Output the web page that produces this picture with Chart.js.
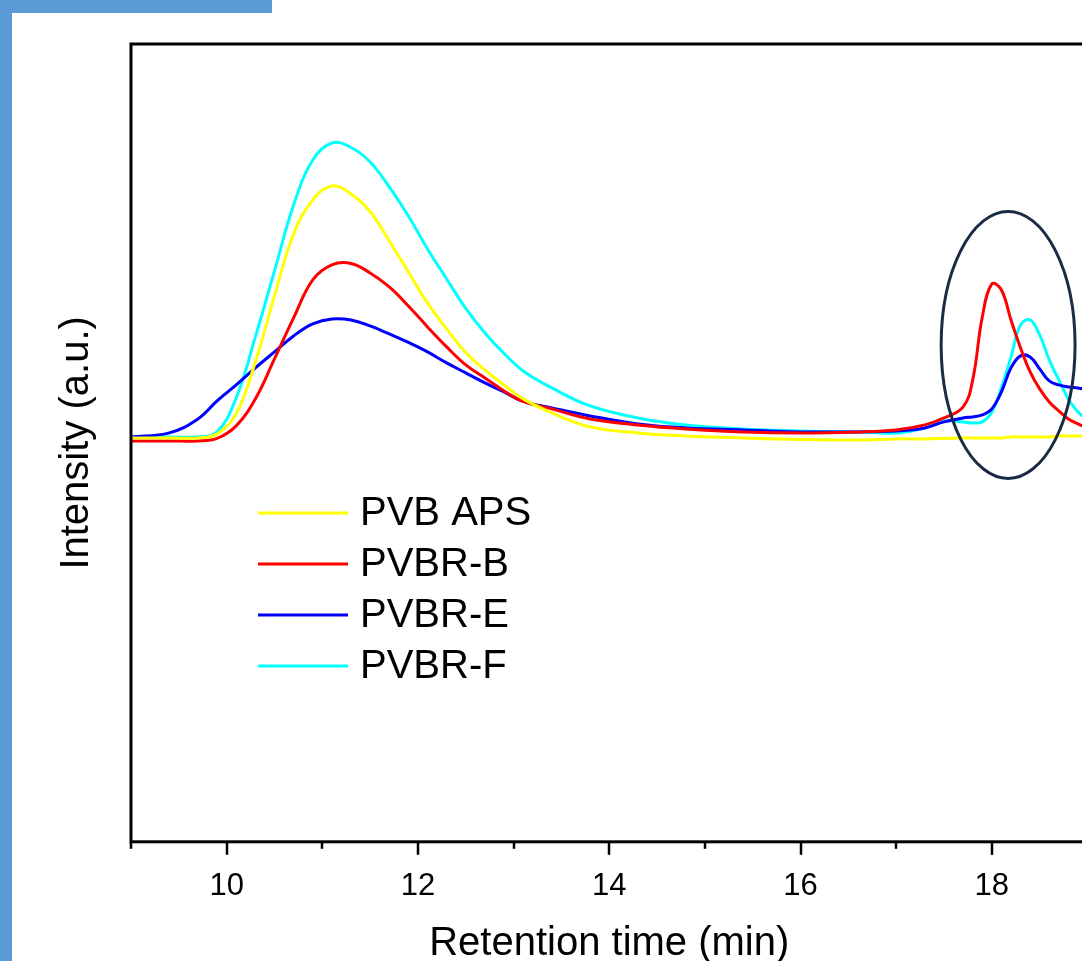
<!DOCTYPE html>
<html>
<head>
<meta charset="utf-8">
<script src="https://cdn.jsdelivr.net/npm/chart.js@4.4.1/dist/chart.umd.min.js"></script>
<style>
  html, body { margin: 0; padding: 0; background: #fff; overflow: hidden; width: 1082px; height: 961px; }
  #wrap { position: absolute; left: 0; top: 0; width: 1100px; height: 968px; }
  .barLeft { position: absolute; left: 0; top: 0; width: 12px; height: 961px; background: #5b9bd5; }
  .barTop { position: absolute; left: 0; top: 0; width: 272px; height: 13px; background: #5b9bd5; }
</style>
</head>
<body>
<div id="wrap"><canvas id="gpcChart" width="1100" height="968"></canvas></div>
<div class="barLeft"></div>
<div class="barTop"></div>
<script>
// retention time (min), shared by every trace
const retentionTime = [9.0, 9.4, 9.7, 9.9, 10.1, 10.3, 10.5, 10.7, 10.9, 11.1, 11.3, 11.5, 11.7, 11.9, 12.1, 12.3, 12.5, 12.7, 12.9, 13.1,
  13.4, 13.8, 14.3, 14.8, 15.4, 16.0, 16.6, 17.0, 17.3, 17.5, 17.7, 17.8, 17.9, 18.0, 18.1, 18.2, 18.3, 18.4, 18.5, 18.6, 18.7, 18.8, 18.9, 19.0];

// intensity (a.u.)
const pvbAps = [404, 404, 404, 408, 428, 480, 546, 608, 642, 656, 648, 630.5, 601, 570, 539, 513, 489.5, 472, 457, 443,
  429, 415, 409, 406, 404, 402.5, 402, 403, 403, 403.5, 404, 404, 404, 404, 404, 405, 405, 405, 405, 405, 406, 406, 406, 406];
const pvbrB = [401, 401, 401, 403.5, 416, 443, 483, 524, 562, 577, 578.5, 569, 555, 536, 515, 495, 477, 464, 451, 440.5,
  433, 423, 417, 413, 410, 409, 410, 412, 417, 424, 435, 462, 525, 558, 552, 522, 494, 470, 453, 440, 431, 423, 418, 414];
const pvbrE = [405, 409, 423, 441, 457, 474, 490, 506, 518, 523, 522, 516, 508, 499.5, 490, 479, 469, 459, 450, 440.5,
  434, 426, 418, 414, 412, 410, 410, 411, 414, 420, 424, 425, 427, 433, 450, 474, 486, 485, 473, 461, 457, 455, 454, 452];
const pvbrF = [405, 405, 405, 410, 444, 505, 571, 637, 682, 699, 694.5, 680, 655, 626, 593, 563, 533.5, 509, 488.5, 471,
  454, 436, 424, 417, 413, 411, 410, 409, 414, 421, 420, 419, 420, 430, 454, 485, 517, 522, 507, 482, 462, 443, 430, 422];

const seriesNames = ['PVB APS', 'PVBR-B', 'PVBR-E', 'PVBR-F'];
const seriesValues = [pvbAps, pvbrB, pvbrE, pvbrF];
const seriesColors = ['#ffff00', '#ff0000', '#0000ff', '#00ffff'];

const FONT = "'Liberation Sans', Arial, sans-serif";

function toPoints(values) {
  return values.map(function (v, i) { return { x: retentionTime[i], y: v }; });
}

// frame, minor/major ticks, y title, inset legend and the ellipse mark
const decorations = {
  id: 'decorations',
  afterDraw: function (chart) {
    const ctx = chart.ctx;
    const a = chart.chartArea;
    const x = chart.scales.x;
    const y = chart.scales.y;
    ctx.save();

    // ellipse round the late peaks
    const cx = x.getPixelForValue(18.17);
    const cy = y.getPixelForValue(497);
    const rx = x.getPixelForValue(18.17 + 0.70) - cx;
    const ry = cy - y.getPixelForValue(497 + 133.5);
    ctx.strokeStyle = '#1c2b45';
    ctx.lineWidth = 3;
    ctx.beginPath();
    ctx.ellipse(cx, cy, rx, ry, 0, 0, Math.PI * 2);
    ctx.stroke();

    // frame
    ctx.strokeStyle = '#000';
    ctx.lineWidth = 3;
    ctx.strokeRect(a.left, a.top, a.right - a.left, a.bottom - a.top);

    // ticks: long on even minutes, short on odd
    ctx.lineWidth = 2.5;
    for (let t = 9; t <= 19; t++) {
      const px = Math.round(x.getPixelForValue(t));
      const len = t % 2 === 0 ? 13 : 7;
      ctx.beginPath();
      ctx.moveTo(px, a.bottom);
      ctx.lineTo(px, a.bottom + len);
      ctx.stroke();
    }

    // y axis title
    ctx.fillStyle = '#000';
    ctx.font = '40px ' + FONT;
    ctx.textAlign = 'center';
    ctx.textBaseline = 'middle';
    ctx.translate(77, (a.top + a.bottom) / 2);
    ctx.rotate(-Math.PI / 2);
    ctx.fillText('Intensity (a.u.)', 0, 0);
    ctx.setTransform(1, 0, 0, 1, 0, 0);

    // legend inside the plot
    ctx.textAlign = 'left';
    chart.data.datasets.forEach(function (ds, i) {
      const ly = 513 + i * 51;
      ctx.strokeStyle = ds.borderColor;
      ctx.lineWidth = 3;
      ctx.beginPath();
      ctx.moveTo(a.left + 127, ly);
      ctx.lineTo(a.left + 217, ly);
      ctx.stroke();
      ctx.fillStyle = '#000';
      ctx.fillText(ds.label, a.left + 229, ly + 1);
    });

    ctx.restore();
  }
};

document.addEventListener('DOMContentLoaded', function () {
  const el = document.getElementById('gpcChart').getContext('2d');
  new Chart(el, {
    type: 'line',
    data: {
      datasets: seriesNames.map(function (name, i) {
        return {
          label: name,
          data: toPoints(seriesValues[i]),
          borderColor: seriesColors[i],
          backgroundColor: seriesColors[i],
          borderWidth: 3,
          pointRadius: 0,
          fill: false,
          tension: 0.4
        };
      })
    },
    options: {
      events: [],
      responsive: false,
      animation: false,
      layout: {
        padding: { left: 131, right: 12.5, top: 44, bottom: 0 }
      },
      scales: {
        x: {
          type: 'linear',
          min: 9,
          max: 19,
          grid: { display: false, drawTicks: false },
          border: { display: false },
          afterFit: function (scale) {
            // labels sit well inside the canvas, no side padding needed
            scale.paddingLeft = 0;
            scale.paddingRight = 0;
          },
          ticks: {
            stepSize: 1,
            autoSkip: false,
            maxRotation: 0,
            padding: 26,
            color: '#000',
            font: { family: FONT, size: 31 },
            callback: function (value) {
              return value % 2 === 0 ? value : '';
            }
          },
          title: {
            display: true,
            text: 'Retention time (min)',
            color: '#000',
            font: { family: FONT, size: 40 },
            padding: { top: -11, bottom: 0 }
          }
        },
        y: {
          display: false,
          min: 0,
          max: 798
        }
      },
      plugins: {
        legend: { display: false },
        tooltip: { enabled: false }
      }
    },
    plugins: [decorations]
  });
});
</script>
</body>
</html>
